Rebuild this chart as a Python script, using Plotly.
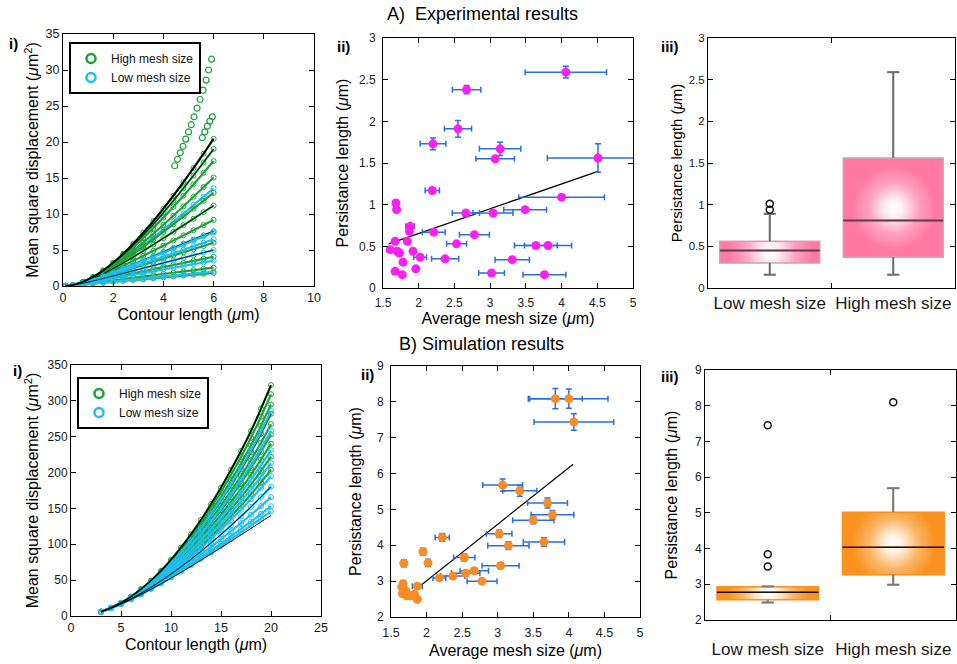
import numpy as np
import plotly.graph_objects as go

W, H = 957, 664
FONT = "Liberation Sans, Arial, Helvetica, sans-serif"

GREEN = "#1ba138"
CYAN = "#1fbef0"
MAGENTA = "#ff1ef0"
ORANGE = "#f98c25"
ERRBLUE = "#2b6ee2"
PINK = "#ff79a4"
BOXORANGE = "#f9921f"

# ====================== DATA ======================
# ---- A i) experimental MSD curves ----
CONTOUR_A = [0.1, 0.4, 0.8, 1.2, 1.6, 2.0, 2.4, 2.8, 3.2, 3.6, 4.0, 4.4, 4.8, 5.2, 5.6, 6.0]
MSD_A_HIGH = [
    [0.01, 0.15, 0.59, 1.27, 2.16, 3.24, 4.49, 5.88, 7.40, 9.02, 10.75, 12.55, 14.43, 16.38, 18.38, 20.44],
    [0.01, 0.15, 0.58, 1.24, 2.11, 3.15, 4.33, 5.65, 7.07, 8.59, 10.18, 11.85, 13.58, 15.35, 17.17, 19.03],
    [0.01, 0.15, 0.57, 1.21, 2.04, 3.02, 4.13, 5.35, 6.66, 8.05, 9.49, 10.99, 12.53, 14.11, 15.72, 17.35],
    [0.01, 0.15, 0.55, 1.16, 1.93, 2.83, 3.83, 4.91, 6.06, 7.26, 8.50, 9.77, 11.07, 12.39, 13.73, 15.07],
    [0.01, 0.15, 0.53, 1.10, 1.81, 2.62, 3.51, 4.45, 5.44, 6.46, 7.51, 8.57, 9.65, 10.74, 11.83, 12.93],
    [0.01, 0.14, 0.51, 1.05, 1.69, 2.42, 3.20, 4.03, 4.88, 5.75, 6.64, 7.53, 8.44, 9.34, 10.26, 11.17],
    [0.01, 0.14, 0.49, 0.97, 1.53, 2.16, 2.81, 3.49, 4.19, 4.89, 5.60, 6.31, 7.03, 7.75, 8.46, 9.18],
    [0.01, 0.13, 0.46, 0.89, 1.38, 1.91, 2.46, 3.02, 3.58, 4.15, 4.73, 5.30, 5.88, 6.45, 7.03, 7.60],
    [0.01, 0.13, 0.42, 0.78, 1.19, 1.61, 2.04, 2.48, 2.92, 3.36, 3.80, 4.24, 4.68, 5.12, 5.56, 6.00],
    [0.01, 0.11, 0.35, 0.61, 0.90, 1.18, 1.47, 1.76, 2.05, 2.33, 2.62, 2.91, 3.20, 3.49, 3.77, 4.06],
    [0.01, 0.10, 0.26, 0.43, 0.61, 0.78, 0.96, 1.14, 1.31, 1.49, 1.66, 1.84, 2.02, 2.19, 2.37, 2.54],
    [0.01, 0.08, 0.20, 0.32, 0.45, 0.57, 0.70, 0.82, 0.94, 1.07, 1.19, 1.32, 1.44, 1.56, 1.69, 1.81],
]
MSD_A_LOW_BEHIND = [
    [0.01, 0.15, 0.54, 1.12, 1.85, 2.69, 3.61, 4.60, 5.63, 6.71, 7.81, 8.94, 10.08, 11.24, 12.41, 13.58],
]
MSD_A_LOW = [
    [0.01, 0.13, 0.45, 0.88, 1.36, 1.88, 2.41, 2.96, 3.51, 4.07, 4.62, 5.18, 5.74, 6.30, 6.86, 7.42],
    [0.01, 0.13, 0.43, 0.82, 1.25, 1.71, 2.17, 2.65, 3.12, 3.60, 4.08, 4.56, 5.04, 5.52, 6.00, 6.48],
    [0.01, 0.12, 0.38, 0.70, 1.05, 1.40, 1.76, 2.12, 2.48, 2.84, 3.20, 3.56, 3.92, 4.28, 4.64, 5.00],
    [0.01, 0.11, 0.32, 0.56, 0.80, 1.05, 1.30, 1.54, 1.79, 2.04, 2.29, 2.54, 2.78, 3.03, 3.28, 3.53],
    [0.01, 0.08, 0.22, 0.35, 0.49, 0.62, 0.76, 0.89, 1.03, 1.17, 1.30, 1.44, 1.57, 1.71, 1.85, 1.98],
]
OUTLIER_A_X = [4.45, 4.56, 4.67, 4.78, 4.89, 5.00, 5.11, 5.22, 5.34, 5.46, 5.58, 5.70, 5.80, 5.92]
OUTLIER_A_Y = [16.7, 17.6, 18.5, 19.4, 20.4, 21.4, 22.4, 23.5, 24.7, 25.9, 27.2, 28.6, 30.0, 31.5]
STEEP_A_X = [5.55, 5.65, 5.75, 5.85, 5.95]
STEEP_A_Y = [20.6, 21.4, 22.2, 22.9, 23.5]
FIT_A_TOP_IDX = 0
FIT_A_HIGH_IDX = [1, 5, 7]
FIT_A_LOW_IDX = [2]

# ---- B i) simulation MSD curves ----
CONTOUR_B = [3, 4, 5, 6, 7, 8, 9, 10, 11, 12, 13, 14, 15, 16, 17, 18, 19, 20]
MSD_B_HIGH = [
    [6.0, 11.5, 18.5, 27.0, 37.5, 49.5, 63.0, 78.5, 95.5, 114.0, 134.0, 156.0, 179.0, 204.0, 230.0, 258.0, 289.0, 322.0],
    [6.0, 11.5, 18.4, 26.7, 37.0, 48.6, 61.7, 76.7, 93.1, 110.9, 130.1, 151.1, 173.1, 197.0, 221.8, 248.5, 278.0, 309.3],
    [6.0, 11.4, 18.2, 26.4, 36.4, 47.7, 60.3, 74.6, 90.3, 107.3, 125.6, 145.6, 166.5, 189.0, 212.5, 237.6, 265.3, 294.8],
    [6.0, 11.4, 18.1, 26.1, 35.9, 46.8, 59.0, 72.9, 87.9, 104.2, 121.7, 140.7, 160.6, 182.0, 204.3, 228.1, 254.3, 282.1],
    [5.9, 11.3, 18.0, 25.8, 35.3, 45.8, 57.6, 70.8, 85.2, 100.6, 117.2, 135.2, 153.9, 174.1, 195.0, 217.3, 241.7, 267.5],
    [5.9, 11.3, 17.8, 25.5, 34.7, 44.9, 56.1, 68.7, 82.4, 97.0, 112.7, 129.6, 147.2, 166.1, 185.6, 206.4, 229.0, 253.0],
    [5.9, 11.2, 17.7, 25.2, 34.1, 44.0, 54.9, 66.9, 80.0, 93.9, 108.8, 124.7, 141.3, 159.1, 177.4, 196.9, 218.0, 240.3],
    [5.9, 11.2, 17.5, 24.9, 33.4, 42.8, 53.0, 64.4, 76.5, 89.4, 103.2, 117.8, 133.0, 149.1, 165.8, 183.3, 202.2, 222.1],
    [5.9, 11.1, 17.3, 24.5, 32.6, 41.6, 51.2, 61.8, 73.1, 85.0, 97.5, 110.8, 124.6, 139.1, 154.1, 169.7, 186.4, 204.0],
]
MSD_B_LOW = [
    [6.0, 11.4, 18.1, 26.2, 36.0, 47.1, 59.4, 73.4, 88.6, 105.1, 122.8, 142.1, 162.3, 184.0, 206.6, 230.8, 257.4, 285.7],
    [5.9, 11.3, 17.9, 25.6, 34.9, 45.2, 56.7, 69.5, 83.4, 98.4, 114.4, 131.7, 149.7, 169.1, 189.1, 210.5, 233.8, 258.4],
    [5.9, 11.2, 17.6, 25.1, 33.8, 43.4, 54.0, 65.7, 78.3, 91.7, 105.9, 121.3, 137.2, 154.1, 171.6, 190.1, 210.1, 231.2],
    [5.9, 11.1, 17.4, 24.7, 33.0, 42.2, 52.1, 63.1, 74.8, 87.2, 100.3, 114.3, 128.8, 144.1, 159.9, 176.5, 194.3, 213.0],
    [5.9, 11.1, 17.2, 24.3, 32.3, 41.0, 50.3, 60.5, 71.4, 82.7, 94.7, 107.4, 120.4, 134.1, 148.2, 162.9, 178.5, 194.9],
    [5.8, 11.0, 17.1, 24.0, 31.7, 40.0, 48.9, 58.5, 68.6, 79.1, 90.2, 101.8, 113.7, 126.2, 138.9, 152.1, 165.9, 180.4],
    [5.8, 11.0, 16.9, 23.6, 31.1, 39.0, 47.4, 56.4, 65.8, 75.6, 85.8, 96.2, 107.0, 118.2, 129.6, 141.2, 153.3, 165.8],
    [5.8, 10.9, 16.8, 23.4, 30.5, 38.2, 46.2, 54.6, 63.4, 72.4, 81.8, 91.4, 101.2, 111.2, 121.4, 131.7, 142.3, 153.1],
    [5.8, 10.9, 16.8, 23.2, 30.2, 37.7, 45.4, 53.6, 62.0, 70.6, 79.6, 88.6, 97.8, 107.2, 116.7, 126.3, 135.9, 145.8],
]
FIT_B_LOWEST = [5.8, 10.9, 16.7, 23.1, 30.0, 37.3, 44.9, 52.8, 61.0, 69.3, 77.9, 86.5, 95.3, 104.2, 113.2, 122.2, 131.2, 140.4]
FIT_B_TOP_IDX = 0
FIT_B_HIGH_IDX = [3]
FIT_B_LOW_IDX = [5]

# ---- A ii) persistence length vs mesh size (experiment) ----
MESH_A = [4.06, 2.67, 2.55, 2.20, 3.14, 3.07, 4.51, 2.19, 4.00, 1.68, 1.69, 3.49, 2.66, 3.04, 1.88, 1.87, 2.21, 2.78,
          1.67, 1.84, 2.53, 3.64, 3.81, 1.60, 1.70, 1.73, 1.92, 2.02, 2.37, 3.31, 1.78, 1.96, 1.67, 3.02, 3.76, 1.77]
LP_A = [2.59, 2.38, 1.91, 1.73, 1.67, 1.55, 1.56, 1.17, 1.09, 1.02, 0.94, 0.94, 0.90, 0.90, 0.74, 0.68, 0.67, 0.64,
        0.56, 0.56, 0.53, 0.51, 0.51, 0.46, 0.44, 0.42, 0.44, 0.37, 0.35, 0.34, 0.31, 0.23, 0.20, 0.18, 0.16, 0.16]
MESH_A_ERR = [0.57, 0.20, 0.19, 0.18, 0.29, 0.27, 0.71, 0.10, 0.60, 0, 0, 0.30, 0.19, 0.28, 0.06, 0, 0.16, 0.21,
              0, 0, 0.14, 0.30, 0.33, 0, 0, 0, 0, 0.09, 0.19, 0.24, 0, 0, 0, 0.18, 0.30, 0]
LP_A_ERR = [0.07, 0.05, 0.10, 0.07, 0.08, 0.02, 0.17, 0.03, 0.02, 0.02, 0.02, 0.02, 0.02, 0.02, 0.02, 0.02, 0.02, 0.02,
            0.02, 0.02, 0.02, 0.02, 0.02, 0.01, 0.01, 0.01, 0.01, 0.02, 0.02, 0.02, 0.01, 0.01, 0.01, 0.02, 0.02, 0.01]
FIT_A2_X = [1.58, 4.51]
FIT_A2_Y = [0.53, 1.40]

# ---- B ii) persistence length vs mesh size (simulation) ----
MESH_B = [3.81, 4.00, 4.07, 3.07, 3.31, 3.70, 3.77, 3.50, 3.02, 3.65, 3.15, 2.22, 1.95, 2.02, 1.68, 2.53, 3.04, 2.67,
          2.55, 2.37, 2.18, 2.78, 1.87, 1.67, 1.67, 1.66, 1.72, 1.78, 1.83, 1.87, 1.65, 1.71]
LP_B = [8.09, 8.09, 7.44, 5.68, 5.52, 5.18, 4.85, 4.70, 4.32, 4.09, 3.99, 4.22, 3.82, 3.51, 3.50, 3.66, 3.43, 3.29,
        3.22, 3.14, 3.09, 3.00, 2.86, 2.93, 2.79, 2.65, 2.59, 2.59, 2.63, 2.49, 2.84, 2.73]
MESH_B_ERR = [0.38, 0.55, 0.56, 0.28, 0.24, 0.28, 0.30, 0.29, 0.18, 0.29, 0.29, 0.10, 0, 0, 0, 0.15, 0.26, 0.20,
              0.20, 0.17, 0.09, 0.21, 0.07, 0, 0, 0, 0, 0, 0, 0, 0, 0]
LP_B_ERR = [0.28, 0.27, 0.23, 0.17, 0.15, 0.14, 0.12, 0.10, 0.10, 0.12, 0.11, 0.11, 0.10, 0.10, 0.10, 0.10, 0.08, 0.08,
            0.06, 0.06, 0.05, 0.05, 0.05, 0.08, 0.05, 0.05, 0.03, 0.03, 0.03, 0.03, 0.03, 0.03]
FIT_B2_X = [1.74, 4.06]
FIT_B2_Y = [2.60, 6.26]

# ---- iii) box plots ----
GROUPS = ["Low mesh size", "High mesh size"]
POSITIONS = [0, 1]
A3_Q1 = [0.30, 0.37]
A3_MED = [0.45, 0.81]
A3_Q3 = [0.56, 1.56]
A3_LO = [0.16, 0.16]
A3_HI = [0.89, 2.59]
A3_OUT = [[1.01, 0.94], []]
B3_Q1 = [2.57, 3.27]
B3_MED = [2.78, 4.04]
B3_Q3 = [2.93, 5.02]
B3_LO = [2.49, 2.99]
B3_HI = [2.94, 5.69]
B3_OUT = [[3.50, 3.84, 7.45], [8.10]]

# ====================== LAYOUT GEOMETRY ======================
PANELS = {  # x0, x1, y0, y1 in pixels
    1: (63, 314, 34, 286),
    2: (383, 633, 38, 288),
    3: (708, 955, 38, 288),
    4: (71, 321, 365, 616),
    5: (391, 640, 366, 617),
    6: (705, 956, 370, 620),
}
BOX_WIDTH = 0.81


def ids(k):
    return ("x" if k == 1 else f"x{k}"), ("y" if k == 1 else f"y{k}")


def dom(k):
    x0, x1, y0, y1 = PANELS[k]
    return [x0 / W, x1 / W], [1 - y1 / H, 1 - y0 / H]


def axis(domain, rng, anchor, dtick=None, tsize=12.5, title=None, title_size=16, standoff=3, **extra):
    a = dict(domain=domain, range=rng, anchor=anchor, showline=True, linecolor="black", linewidth=1,
             mirror="ticks", ticks="inside", ticklen=5, tickwidth=1, tickcolor="black",
             showgrid=False, zeroline=False, automargin=False,
             tickfont=dict(family=FONT, size=tsize, color="#1a1a1a"))
    if dtick is not None:
        a.update(tickmode="linear", dtick=dtick, tick0=rng[0])
    if title:
        a["title"] = dict(text=title, font=dict(family=FONT, size=title_size, color="black"), standoff=standoff)
    a.update(extra)
    return a


fig = go.Figure()


def curve(x, y, color, k, size=5, lw=2.2):
    xa, ya = ids(k)
    fig.add_trace(go.Scatter(x=x, y=y, mode="lines+markers", xaxis=xa, yaxis=ya, showlegend=False,
                             line=dict(color=color, width=lw, shape="spline", smoothing=0.6),
                             marker=dict(symbol="circle-open", size=size, color=color, line=dict(width=1)),
                             hoverinfo="skip"))


def fitline(x, y, k, lw=1.0):
    xa, ya = ids(k)
    fig.add_trace(go.Scatter(x=x, y=y, mode="lines", xaxis=xa, yaxis=ya, showlegend=False,
                             line=dict(color="black", width=lw, shape="spline", smoothing=0.6), hoverinfo="skip"))


def legend_entry(name, color, k, legend):
    xa, ya = ids(k)
    fig.add_trace(go.Scatter(x=[None], y=[None], mode="markers", name=name, xaxis=xa, yaxis=ya, legend=legend,
                             marker=dict(symbol="circle-open", size=9, color=color, line=dict(width=2.5))))


# ---------------- A i ----------------
legend_entry("High mesh size", GREEN, 1, "legend")
legend_entry("Low mesh size", CYAN, 1, "legend")
for yv in MSD_A_LOW_BEHIND:
    curve(CONTOUR_A, yv, CYAN, 1)
for yv in MSD_A_HIGH:
    curve(CONTOUR_A, yv, GREEN, 1)
for i in FIT_A_HIGH_IDX:
    fitline(CONTOUR_A, MSD_A_HIGH[i], 1)
for yv in MSD_A_LOW:
    curve(CONTOUR_A, yv, CYAN, 1)
for i in FIT_A_LOW_IDX:
    fitline(CONTOUR_A, MSD_A_LOW[i], 1, lw=0.8)
for sx, sy in [(OUTLIER_A_X, OUTLIER_A_Y), (STEEP_A_X, STEEP_A_Y)]:
    fig.add_trace(go.Scatter(x=sx, y=sy, mode="markers", xaxis="x", yaxis="y", showlegend=False,
                             marker=dict(symbol="circle-open", size=6, color=GREEN, line=dict(width=1.2)),
                             hoverinfo="skip"))
fitline(CONTOUR_A, MSD_A_HIGH[FIT_A_TOP_IDX], 1, lw=1.8)

# ---------------- B i ----------------
legend_entry("High mesh size", GREEN, 4, "legend2")
legend_entry("Low mesh size", CYAN, 4, "legend2")
for yv in MSD_B_HIGH:
    curve(CONTOUR_B, yv, GREEN, 4)
for i in FIT_B_HIGH_IDX:
    fitline(CONTOUR_B, MSD_B_HIGH[i], 4)
for yv in MSD_B_LOW:
    curve(CONTOUR_B, yv, CYAN, 4)
for i in FIT_B_LOW_IDX:
    fitline(CONTOUR_B, MSD_B_LOW[i], 4)
fitline(CONTOUR_B, FIT_B_LOWEST, 4)
fitline(CONTOUR_B, MSD_B_HIGH[FIT_B_TOP_IDX], 4, lw=1.6)


# ---------------- ii panels ----------------
def scatter_panel(k, fx, fy, x, y, xe, ye, color):
    xa, ya = ids(k)
    fig.add_trace(go.Scatter(x=fx, y=fy, mode="lines", xaxis=xa, yaxis=ya, showlegend=False,
                             line=dict(color="black", width=1.2), hoverinfo="skip"))
    fig.add_trace(go.Scatter(x=x, y=y, mode="markers", xaxis=xa, yaxis=ya, showlegend=False,
                             marker=dict(size=9, color=color),
                             error_x=dict(type="data", array=xe, color=ERRBLUE, thickness=1.5, width=3),
                             error_y=dict(type="data", array=ye, color=ERRBLUE, thickness=1.5, width=3),
                             hoverinfo="skip"))


scatter_panel(2, FIT_A2_X, FIT_A2_Y, MESH_A, LP_A, MESH_A_ERR, LP_A_ERR, MAGENTA)
scatter_panel(5, FIT_B2_X, FIT_B2_Y, MESH_B, LP_B, MESH_B_ERR, LP_B_ERR, ORANGE)


# ---------------- iii panels ----------------
def box_panel(k, q1, med, q3, lo, hi, outs, scale, outline, whisk_col, med_col, med_w, yrange):
    xa, ya = ids(k)
    x0, x1, y0, y1 = PANELS[k]
    px_x = (x1 - x0) / 2.0
    px_y = (y1 - y0) / (yrange[1] - yrange[0])
    hw = BOX_WIDTH / 2
    radius = 42.0
    for p, a, b in zip(POSITIONS, q1, q3):
        xe = np.linspace(p - hw, p + hw, 81)
        ye = np.linspace(a, b, 41)
        xc = (xe[:-1] + xe[1:]) / 2
        yc = (ye[:-1] + ye[1:]) / 2
        dx = (xc - p) * px_x
        dy = (yc - (a + b) / 2) * px_y
        z = np.clip(np.sqrt(dx[None, :] ** 2 + dy[:, None] ** 2) / radius, 0, 1)
        fig.add_trace(go.Heatmap(x=xe, y=ye, z=z, zmin=0, zmax=1, colorscale=scale, showscale=False,
                                 zsmooth="best", hoverinfo="skip", xaxis=xa, yaxis=ya))
    for p, a, m, b, l, h in zip(POSITIONS, q1, med, q3, lo, hi):
        fig.add_trace(go.Box(x=[p], q1=[a], median=[m], q3=[b], lowerfence=[l], upperfence=[h],
                             width=BOX_WIDTH, whiskerwidth=0.12, fillcolor="rgba(0,0,0,0)",
                             line=dict(color=outline, width=1.5), boxpoints=False,
                             showlegend=False, hoverinfo="skip", xaxis=xa, yaxis=ya))
    cap = BOX_WIDTH * 0.06
    wx, wy, mx, my = [], [], [], []
    for p, a, m, b, l, h in zip(POSITIONS, q1, med, q3, lo, hi):
        wx += [p, p, None, p, p, None, p - cap, p + cap, None, p - cap, p + cap, None]
        wy += [b, h, None, a, l, None, h, h, None, l, l, None]
        mx += [p - hw, p + hw, None]
        my += [m, m, None]
    fig.add_trace(go.Scatter(x=wx, y=wy, mode="lines", line=dict(color=whisk_col, width=2), showlegend=False,
                             hoverinfo="skip", xaxis=xa, yaxis=ya))
    fig.add_trace(go.Scatter(x=mx, y=my, mode="lines", line=dict(color=med_col, width=med_w), showlegend=False,
                             hoverinfo="skip", xaxis=xa, yaxis=ya))
    ox, oy = [], []
    for p, vals in zip(POSITIONS, outs):
        ox += [p] * len(vals)
        oy += vals
    fig.add_trace(go.Scatter(x=ox, y=oy, mode="markers", showlegend=False, hoverinfo="skip",
                             marker=dict(symbol="circle-open", size=7, color="#111", line=dict(width=1.5)),
                             xaxis=xa, yaxis=ya))


PINK_SCALE = [[0, "#ffffff"], [0.2, "#fff1f6"], [0.6, "#ffa2c2"], [1, PINK]]
ORANGE_SCALE = [[0, "#ffffff"], [0.2, "#fff3e3"], [0.6, "#fbb565"], [1, BOXORANGE]]
box_panel(3, A3_Q1, A3_MED, A3_Q3, A3_LO, A3_HI, A3_OUT, PINK_SCALE, "#c9a9b7", "#6d6d6d", "#5e3a4c", 2, [0, 3])
box_panel(6, B3_Q1, B3_MED, B3_Q3, B3_LO, B3_HI, B3_OUT, ORANGE_SCALE, BOXORANGE, "#787878", "#111", 1.5, [2, 9])

# ====================== AXES ======================
MU = "<i>μ</i>m"
lay = {}
d1x, d1y = dom(1)
lay["xaxis"] = axis(d1x, [0, 10], "y", dtick=2, title=f"Contour length ({MU})", standoff=4)
lay["yaxis"] = axis(d1y, [0, 35], "x", dtick=5, title=f"Mean square displacement ({MU}<sup>2</sup>)", standoff=2)
d2x, d2y = dom(2)
lay["xaxis2"] = axis(d2x, [1.5, 5], "y2", dtick=0.5, tsize=12, title=f"Average mesh size ({MU})", standoff=2,
                     ticklabelstandoff=4)
lay["yaxis2"] = axis(d2y, [0, 3], "x2", dtick=0.5, tsize=12, title=f"Persistance length ({MU})", standoff=6,
                     ticklabelstandoff=4)
d3x, d3y = dom(3)
lay["xaxis3"] = axis(d3x, [-0.5, 1.5], "y3", tsize=17, tickmode="array", tickvals=POSITIONS, ticktext=GROUPS,
                     ticks="", ticklabelstandoff=0,
                     minor=dict(tickmode="array", tickvals=[0.5], ticks="inside", ticklen=5, tickcolor="black"))
lay["yaxis3"] = axis(d3y, [0, 3], "x3", dtick=0.5, tsize=11.5, title=f"Persistance length ({MU})",
                     title_size=15, standoff=2)
d4x, d4y = dom(4)
lay["xaxis4"] = axis(d4x, [0, 25], "y4", dtick=5, title=f"Contour length ({MU})", standoff=4)
lay["yaxis4"] = axis(d4y, [0, 350], "x4", dtick=50, tsize=12, title=f"Mean square displacement ({MU}<sup>2</sup>)",
                     standoff=4)
d5x, d5y = dom(5)
lay["xaxis5"] = axis(d5x, [1.5, 5], "y5", dtick=0.5, title=f"Average mesh size ({MU})", standoff=5,
                     ticklabelstandoff=4)
lay["yaxis5"] = axis(d5y, [2, 9], "x5", dtick=1, tsize=12, title=f"Persistance length ({MU})", standoff=11,
                     ticklabelstandoff=4)
d6x, d6y = dom(6)
lay["xaxis6"] = axis(d6x, [-0.5, 1.5], "y6", tsize=17, tickmode="array", tickvals=POSITIONS, ticktext=GROUPS,
                     ticks="", ticklabelstandoff=14,
                     minor=dict(tickmode="array", tickvals=[0.5], ticks="inside", ticklen=5, tickcolor="black"))
lay["yaxis6"] = axis(d6y, [2, 9], "x6", dtick=1, tsize=12, title=f"Persistance length ({MU})", standoff=13)

legend_common = dict(xanchor="left", yanchor="top", bgcolor="white", bordercolor="black", borderwidth=2,
                     font=dict(family=FONT, size=12, color="#111"), itemwidth=30, tracegroupgap=0)

annots = []


def label(text, x, y, size=15, bold=True):
    annots.append(dict(text=f"<b>{text}</b>" if bold else text, x=x / W, y=1 - y / H, xref="paper", yref="paper",
                       showarrow=False, xanchor="center", yanchor="middle",
                       font=dict(family=FONT, size=size, color="black")))


label("A)\u00a0 Experimental results", 483, 14, size=18, bold=False)
label("B) Simulation results", 481, 344, size=18, bold=False)
label("i)", 13, 43)
label("ii)", 343, 47)
label("iii)", 670, 47)
label("i)", 17, 370)
label("ii)", 367, 374)
label("iii)", 670, 377)

fig.update_layout(
    width=W, height=H, margin=dict(l=0, r=0, t=0, b=0),
    paper_bgcolor="white", plot_bgcolor="white",
    font=dict(family=FONT, color="black"),
    legend=dict(x=69 / W, y=1 - 42 / H, **legend_common),
    legend2=dict(x=77 / W, y=1 - 377 / H, **legend_common),
    annotations=annots,
    boxmode="overlay",
    **lay,
)

fig.write_html("out.html")
